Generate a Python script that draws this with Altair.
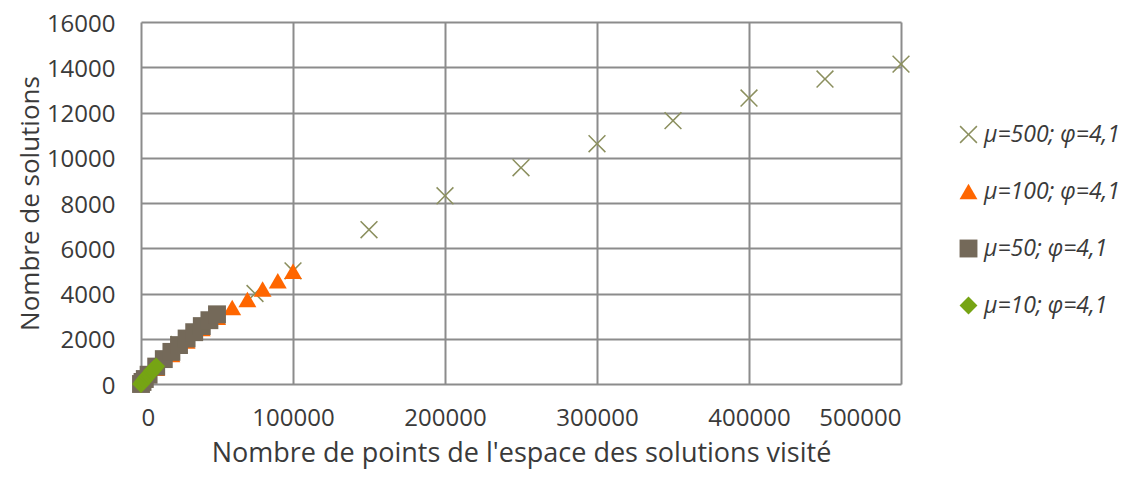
import altair as alt
import pandas as pd

# Series labels
series_names = ["μ=500; φ=4,1", "μ=100; φ=4,1", "μ=50; φ=4,1", "μ=10; φ=4,1"]

# μ=500 (X markers)
x500 = [25000, 50000, 75000, 100000, 150000, 200000, 250000, 300000, 350000, 400000, 450000, 500000]
y500 = [1750, 3000, 4000, 5000, 6820, 8320, 9560, 10620, 11640, 12640, 13480, 14140]

# μ=100 (triangles)
x100 = [10000, 20000, 30000, 40000, 50000, 60000, 70000, 80000, 90000, 100000]
y100 = [700, 1300, 1900, 2450, 2950, 3380, 3740, 4200, 4560, 4980]

# μ=50 (squares)
x50 = [0, 1000, 2500, 5000, 10000, 15000, 20000, 25000, 30000, 35000, 40000, 45000, 50000]
y50 = [0, 90, 220, 410, 770, 1100, 1420, 1720, 2010, 2290, 2560, 2820, 3080]

# μ=10 (diamonds)
x10 = [0, 1000, 2000, 3000, 4000, 5000, 6000, 7000, 8000, 9000, 10000]
y10 = [0, 90, 170, 250, 330, 400, 480, 560, 630, 700, 780]

colors = ["#8b8f5e", "#ff6600", "#746959", "#76a414"]
x_path = ("M-1,-0.88L-0.88,-1L0,-0.12L0.88,-1L1,-0.88L0.12,0L1,0.88L0.88,1"
          "L0,0.12L-0.88,1L-1,0.88L-0.12,0Z")
shapes = [x_path, "triangle-up", "square", "diamond"]

rows = []
for i, (name, xs, ys) in enumerate(zip(series_names, [x500, x100, x50, x10], [y500, y100, y50, y10])):
    for xv, yv in zip(xs, ys):
        rows.append({"series": name, "x": xv, "y": yv, "z": i})
df = pd.DataFrame(rows)

font = "Open Sans"
txt = "#3a3a3a"

chart = alt.Chart(df).mark_point(filled=True, opacity=1, size=320).encode(
    x=alt.X("x:Q", scale=alt.Scale(domain=[0, 500000], nice=False),
            axis=alt.Axis(values=[0, 100000, 200000, 300000, 400000, 500000], format="d",
                          title="Nombre de points de l'espace des solutions visité",
                          labelPadding=22, titlePadding=10, titleFontSize=27)),
    y=alt.Y("y:Q", scale=alt.Scale(domain=[0, 16000], nice=False),
            axis=alt.Axis(values=list(range(0, 16001, 2000)), format="d",
                          title="Nombre de solutions", labelPadding=26, titlePadding=3,
                          titleFontSize=26, labelOffset=2)),
    color=alt.Color("series:N", scale=alt.Scale(domain=series_names, range=colors),
                    legend=alt.Legend(title=None, orient="none", legendX=816, legendY=101,
                                      labelFont=font, labelFontSize=23, labelFontStyle="italic",
                                      labelColor=txt, rowPadding=33, symbolSize=320,
                                      labelOffset=4, padding=0)),
    shape=alt.Shape("series:N", scale=alt.Scale(domain=series_names, range=shapes)),
    order=alt.Order("z:Q"),
).properties(
    width=760, height=362,
    autosize=alt.AutoSizeParams(type="none"),
    padding={"left": 133, "top": 14, "right": 222, "bottom": 87},
).configure_axis(
    grid=True, gridColor="#8c8c8c", gridWidth=2, gridOpacity=1,
    domain=False, ticks=False,
    labelFont=font, labelFontSize=24, labelColor=txt,
    titleFont=font, titleColor=txt, titleFontWeight="normal",
).configure_view(stroke=None)

chart.save("out.html", embed_options={"renderer": "svg", "actions": False})
